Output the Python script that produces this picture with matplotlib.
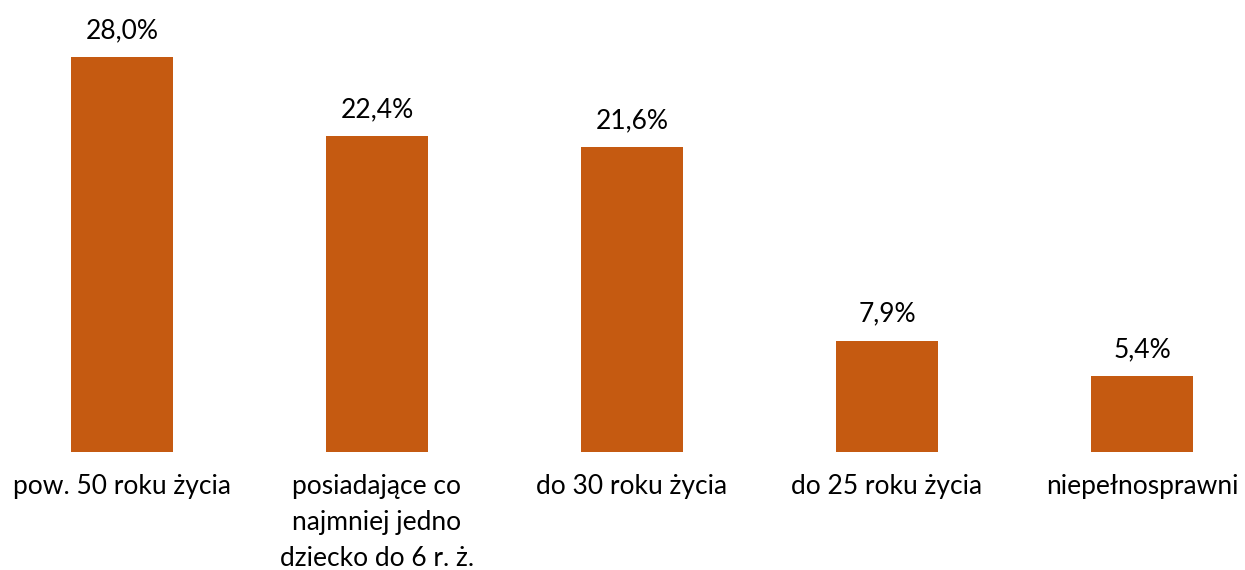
import numpy as np
import matplotlib.pyplot as plt

plt.rcParams['font.family'] = ['Lato', 'DejaVu Sans']

# Data
categories = ['pow. 50 roku życia',
              'posiadające co\nnajmniej jedno\ndziecko do 6 r. ż.',
              'do 30 roku życia',
              'do 25 roku życia',
              'niepełnosprawni']
values = [28.0, 22.4, 21.6, 7.9, 5.4]

barColor = '#C55A11'

fig = plt.figure(figsize=(12.45, 5.7), dpi=100)
ax = fig.add_axes([0, (570 - 452) / 570, 1, 452 / 570])

x = np.arange(len(categories))
bars = ax.bar(x, values, width=0.4, color=barColor)

# Value labels above bars
for xi, v in zip(x, values):
    ax.annotate(f'{v:.1f}'.replace('.', ',') + '%', (xi, v),
                xytext=(0, 10), textcoords='offset points',
                ha='center', va='bottom', fontsize=19)

ax.set_xticks(x)
ax.set_xticklabels(categories, fontsize=19, linespacing=1.55)
ax.tick_params(axis='x', length=0, pad=16)
ax.set_yticks([])
ax.set_xlim(-122 / 255, (1245 - 122) / 255)
ax.set_ylim(0, 452 / 14.1)
for s in ax.spines.values():
    s.set_visible(False)

fig.savefig('out.png', dpi=100)
